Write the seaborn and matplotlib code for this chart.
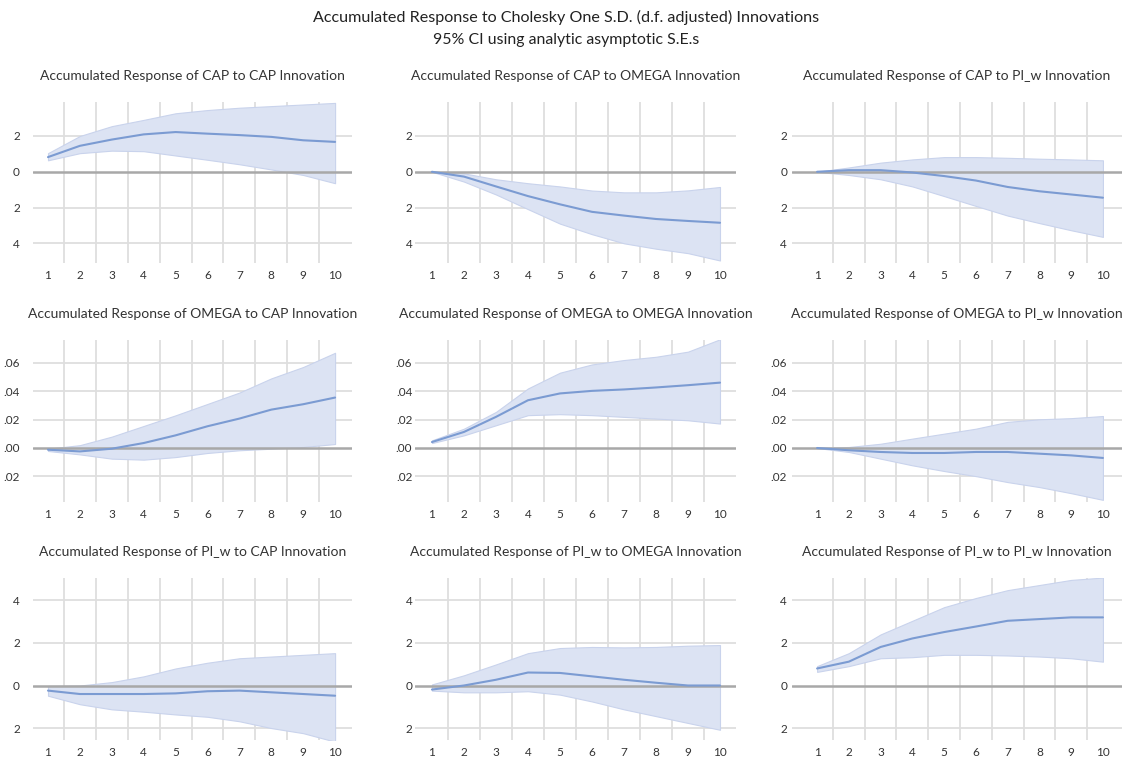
import matplotlib
matplotlib.use("Agg")
import matplotlib.pyplot as plt
import numpy as np
import pandas as pd
import seaborn as sns

# Horizon (periods after the shock)
periods = [1, 2, 3, 4, 5, 6, 7, 8, 9, 10]

# Accumulated responses with 95% confidence bands
cap_cap = [0.82, 1.45, 1.80, 2.09, 2.22, 2.13, 2.05, 1.95, 1.76, 1.67]
cap_cap_hi = [1.04, 2.00, 2.55, 2.90, 3.27, 3.45, 3.58, 3.67, 3.76, 3.85]
cap_cap_lo = [0.64, 1.04, 1.18, 1.15, 0.91, 0.67, 0.42, 0.13, -0.18, -0.64]

cap_omega = [0.00, -0.27, -0.82, -1.36, -1.82, -2.24, -2.45, -2.64, -2.75, -2.85]
cap_omega_hi = [0.00, -0.09, -0.42, -0.64, -0.82, -1.05, -1.15, -1.15, -1.04, -0.85]
cap_omega_lo = [0.00, -0.55, -1.27, -2.09, -2.90, -3.49, -4.00, -4.30, -4.55, -4.96]

cap_piw = [0.00, 0.09, 0.09, -0.04, -0.24, -0.49, -0.85, -1.09, -1.27, -1.45]
cap_piw_hi = [0.00, 0.24, 0.51, 0.69, 0.82, 0.82, 0.78, 0.73, 0.69, 0.64]
cap_piw_lo = [0.00, -0.18, -0.42, -0.82, -1.36, -1.91, -2.45, -2.87, -3.27, -3.64]

omega_cap = [-0.0012, -0.0024, -0.0005, 0.0035, 0.0089, 0.0153, 0.0207, 0.0270, 0.0308, 0.0355]
omega_cap_hi = [-0.0005, 0.0020, 0.0080, 0.0155, 0.0230, 0.0310, 0.0390, 0.0490, 0.0570, 0.0670]
omega_cap_lo = [-0.0021, -0.0045, -0.0075, -0.0082, -0.0064, -0.0035, -0.0016, -0.0005, 0.0007, 0.0028]

omega_omega = [0.0042, 0.0113, 0.0219, 0.0336, 0.0384, 0.0402, 0.0412, 0.0426, 0.0442, 0.0460]
omega_omega_hi = [0.0054, 0.0136, 0.0254, 0.0419, 0.0530, 0.0588, 0.0619, 0.0642, 0.0678, 0.0765]
omega_omega_lo = [0.0035, 0.0089, 0.0160, 0.0231, 0.0238, 0.0231, 0.0219, 0.0207, 0.0195, 0.0172]

omega_piw = [0.0000, -0.0016, -0.0028, -0.0035, -0.0035, -0.0028, -0.0028, -0.0040, -0.0052, -0.0070]
omega_piw_hi = [0.0000, 0.0007, 0.0030, 0.0066, 0.0101, 0.0136, 0.0184, 0.0202, 0.0210, 0.0225]
omega_piw_lo = [0.0000, -0.0028, -0.0075, -0.0122, -0.0162, -0.0198, -0.0240, -0.0275, -0.0318, -0.0365]

piw_cap = [-0.24, -0.40, -0.40, -0.40, -0.37, -0.27, -0.24, -0.32, -0.40, -0.48]
piw_cap_hi = [-0.02, 0.00, 0.16, 0.43, 0.80, 1.07, 1.28, 1.36, 1.44, 1.52]
piw_cap_lo = [-0.48, -0.88, -1.12, -1.23, -1.36, -1.47, -1.68, -2.00, -2.24, -2.64]

piw_omega = [-0.19, 0.00, 0.27, 0.61, 0.59, 0.43, 0.27, 0.13, 0.00, 0.00]
piw_omega_hi = [0.05, 0.48, 0.99, 1.52, 1.76, 1.81, 1.79, 1.81, 1.87, 1.90]
piw_omega_lo = [-0.24, -0.32, -0.32, -0.27, -0.43, -0.75, -1.12, -1.44, -1.76, -2.08]

piw_piw = [0.80, 1.12, 1.81, 2.21, 2.51, 2.77, 3.04, 3.12, 3.20, 3.20]
piw_piw_hi = [0.91, 1.52, 2.40, 3.04, 3.68, 4.11, 4.48, 4.72, 4.96, 5.07]
piw_piw_lo = [0.64, 0.91, 1.28, 1.33, 1.44, 1.44, 1.41, 1.36, 1.28, 1.12]

variables = ["CAP", "OMEGA", "PI_w"]

responses = [
    [(cap_cap, cap_cap_lo, cap_cap_hi),
     (cap_omega, cap_omega_lo, cap_omega_hi),
     (cap_piw, cap_piw_lo, cap_piw_hi)],
    [(omega_cap, omega_cap_lo, omega_cap_hi),
     (omega_omega, omega_omega_lo, omega_omega_hi),
     (omega_piw, omega_piw_lo, omega_piw_hi)],
    [(piw_cap, piw_cap_lo, piw_cap_hi),
     (piw_omega, piw_omega_lo, piw_omega_hi),
     (piw_piw, piw_piw_lo, piw_piw_hi)],
]

# Per-row y axis: tick values and their printed labels
row_ticks = [
    [-4, -2, 0, 2],
    [-0.02, 0.00, 0.02, 0.04, 0.06],
    [-2, 0, 2, 4],
]
row_tick_labels = [
    ["4", "2", "0", "2"],
    [".02", ".00", ".02", ".04", ".06"],
    ["2", "0", "2", "4"],
]
row_limits = [(-5.1, 3.9), (-0.038, 0.076), (-2.56, 5.05)]

sns.set_theme(style="white")
plt.rcParams["font.family"] = ["Lato", "DejaVu Sans"]

LINE = "#7b9bd2"
FILL = "#dce3f3"
GRID = "#dedede"
ZERO = "#a8a8a8"
TEXT = "#333333"

W, H = 1132, 759
fig = plt.figure(figsize=(W / 100, H / 100), dpi=100)

# Panel placement in pixels: (left, width) per column, (top, height) per row
col_px = [(33, 319), (415, 321), (792, 330)]
col_xlim = [(0.53, 10.53), (0.47, 10.5), (0.21, 10.6)]
col_ypad = [9.5, 2.0, 3.5]
row_px = [(102, 161), (340, 162), (578, 162)]

for r, resp_name in enumerate(variables):
    for c, imp_name in enumerate(variables):
        left, width = col_px[c]
        top, height = row_px[r]
        ax = fig.add_axes([left / W, 1 - (top + height) / H, width / W, height / H])
        mid, lo, hi = responses[r][c]
        df = pd.DataFrame({"period": periods, "response": mid, "lo": lo, "hi": hi})

        ax.fill_between(df["period"], df["lo"], df["hi"], color=FILL,
                        edgecolor="#c9d3ec", linewidth=0.8, zorder=2)
        sns.lineplot(data=df, x="period", y="response", ax=ax, color=LINE,
                     linewidth=1.5, zorder=3)
        ax.axhline(0, color=ZERO, linewidth=1.8, zorder=2.5)

        ax.set_xlim(*col_xlim[c])
        ax.set_ylim(*row_limits[r])
        ax.set_xticks(periods)
        ax.set_xticklabels([str(p) for p in periods])
        ax.set_yticks(row_ticks[r])
        ax.set_yticklabels(row_tick_labels[r])

        # Vertical grid between periods, horizontal grid at the y ticks
        for xb in np.arange(1.5, 10.5, 1.0):
            ax.axvline(xb, color=GRID, linewidth=1.3, zorder=1)
        for yv in row_ticks[r]:
            if yv != 0:
                ax.axhline(yv, color=GRID, linewidth=1.3, zorder=1)

        for s in ax.spines.values():
            s.set_visible(False)
        ax.tick_params(axis="both", length=0, labelsize=8.5, colors=TEXT)
        ax.tick_params(axis="x", pad=5)
        ax.tick_params(axis="y", pad=col_ypad[c])
        ax.set_xlabel("")
        ax.set_ylabel("")
        ax.set_title(f"Accumulated Response of {resp_name} to {imp_name} Innovation",
                     fontsize=10, color=TEXT, pad=16)

fig.text(0.5, 1 - 17 / H, "Accumulated Response to Cholesky One S.D. (d.f. adjusted) Innovations",
         ha="center", va="center", fontsize=11.6, color="#222222")
fig.text(0.5, 1 - 40 / H, "95% CI using analytic asymptotic S.E.s",
         ha="center", va="center", fontsize=11.4, color="#222222")

fig.savefig("out.png", dpi=100, facecolor="white")
